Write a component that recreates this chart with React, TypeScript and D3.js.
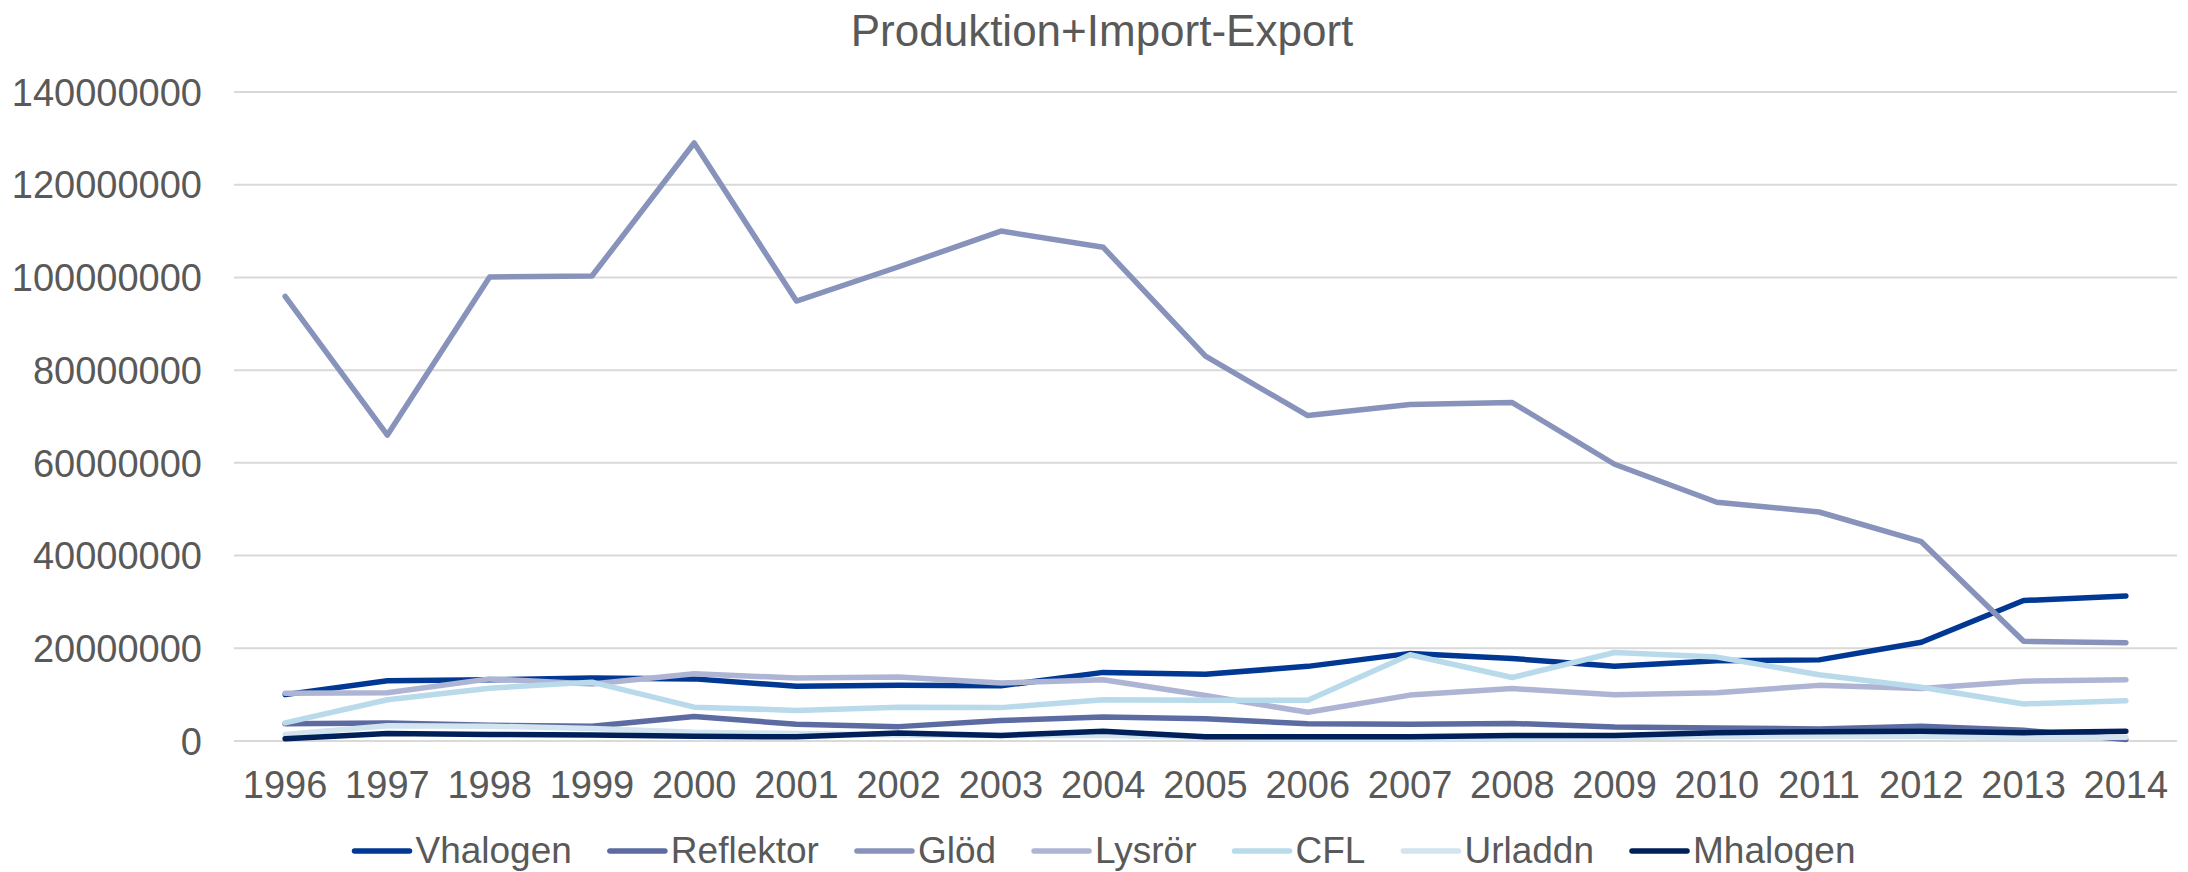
import { useRef, useLayoutEffect } from 'react';
import * as d3 from 'd3';

const years = ['1996', '1997', '1998', '1999', '2000', '2001', '2002', '2003', '2004', '2005',
  '2006', '2007', '2008', '2009', '2010', '2011', '2012', '2013', '2014'];

// values in millions
const vhalogen = [10.0, 13.0, 13.2, 13.6, 13.4, 11.8, 12.0, 11.9, 14.8, 14.4, 16.1, 18.9, 17.8, 16.1, 17.3, 17.5, 21.3, 30.3, 31.3];
const reflektor = [3.7, 3.9, 3.4, 3.2, 5.3, 3.6, 3.1, 4.4, 5.2, 4.8, 3.7, 3.6, 3.8, 3.0, 2.8, 2.6, 3.2, 2.3, 0.3];
const glod = [95.9, 66.0, 100.1, 100.3, 129.0, 94.9, 102.3, 110.0, 106.5, 83.0, 70.2, 72.6, 73.0, 59.7, 51.5, 49.4, 43.0, 21.5, 21.2];
const lysror = [10.3, 10.4, 13.4, 12.3, 14.5, 13.6, 13.8, 12.5, 13.2, 9.8, 6.2, 9.9, 11.3, 10.0, 10.4, 12.0, 11.3, 12.9, 13.2];
const cfl = [3.9, 8.9, 11.4, 12.7, 7.3, 6.6, 7.3, 7.2, 8.9, 8.8, 8.8, 18.6, 13.7, 19.1, 18.1, 14.3, 11.6, 8.0, 8.7];
const urladdn = [1.4, 3.3, 3.2, 2.7, 1.9, 1.6, 1.3, 1.2, 1.2, 0.8, 0.6, 0.5, 0.6, 0.7, 1.0, 1.1, 1.0, 0.7, 0.8];
const mhalogen = [0.5, 1.6, 1.4, 1.3, 1.0, 0.9, 1.7, 1.2, 2.1, 0.9, 0.9, 0.9, 1.2, 1.2, 1.8, 2.0, 2.1, 1.8, 2.1];

const seriesNames = ['Vhalogen', 'Reflektor', 'Glöd', 'Lysrör', 'CFL', 'Urladdn', 'Mhalogen'];
const seriesValues = [vhalogen, reflektor, glod, lysror, cfl, urladdn, mhalogen];
const seriesColors = ['#003894', '#5C6BA1', '#8893BC', '#AEB4D3', '#B8DAEA', '#D1E4EF', '#00205A'];
const yTicks = [0, 20000000, 40000000, 60000000, 80000000, 100000000, 120000000, 140000000];

const W = 2188;
const H = 872;
const FONT = 'Liberation Sans, Arial, sans-serif';
const TEXT = '#595959';

const Chart = () => {
  const ref = useRef<SVGGElement>(null);

  useLayoutEffect(() => {
    const g = d3.select(ref.current);

    const x = d3.scaleBand().domain(years).range([234, 2177]);
    const y = d3.scaleLinear().domain([0, 140000000]).range([741, 92]);

    // gridlines
    g.append('g')
      .selectAll('line')
      .data(yTicks)
      .join('line')
      .attr('x1', 234)
      .attr('x2', 2177)
      .attr('y1', (d) => y(d))
      .attr('y2', (d) => y(d))
      .attr('stroke', '#d9d9d9')
      .attr('stroke-width', 2);

    // y tick labels
    g.append('g')
      .selectAll('text')
      .data(yTicks)
      .join('text')
      .attr('x', 202)
      .attr('y', (d) => y(d))
      .attr('dy', '0.36em')
      .attr('text-anchor', 'end')
      .attr('font-size', 38)
      .attr('fill', TEXT)
      .text((d) => String(d));

    // x tick labels
    g.append('g')
      .selectAll('text')
      .data(years)
      .join('text')
      .attr('x', (d) => x(d)! + x.bandwidth() / 2)
      .attr('y', 798)
      .attr('text-anchor', 'middle')
      .attr('font-size', 38)
      .attr('fill', TEXT)
      .text((d) => d);

    const line = d3
      .line<number>()
      .x((_, i) => x(years[i])! + x.bandwidth() / 2)
      .y((d) => y(d * 1000000));

    g.append('g')
      .selectAll('path')
      .data(seriesValues)
      .join('path')
      .attr('d', (d) => line(d))
      .attr('fill', 'none')
      .attr('stroke', (_, i) => seriesColors[i])
      .attr('stroke-width', 5.5)
      .attr('stroke-linejoin', 'round')
      .attr('stroke-linecap', 'round');

    // title
    g.append('text')
      .attr('x', 1102)
      .attr('y', 46)
      .attr('text-anchor', 'middle')
      .attr('font-size', 44)
      .attr('fill', TEXT)
      .text('Produktion+Import-Export');

    // legend, measured then centred
    const legend = g.append('g');
    const lineLen = 55;
    const gap = 6;
    const spacing = 38;
    let cx = 0;
    seriesNames.forEach((name, i) => {
      const item = legend.append('g').attr('transform', `translate(${cx},0)`);
      item
        .append('line')
        .attr('x1', 0)
        .attr('x2', lineLen)
        .attr('y1', 851)
        .attr('y2', 851)
        .attr('stroke', seriesColors[i])
        .attr('stroke-width', 5.5)
        .attr('stroke-linecap', 'round');
      const t = item
        .append('text')
        .attr('x', lineLen + gap)
        .attr('y', 863)
        .attr('font-size', 37)
        .attr('fill', TEXT)
        .text(name);
      const w = (t.node() as SVGTextElement).getComputedTextLength();
      cx += lineLen + gap + w + spacing;
    });
    const total = cx - spacing;
    legend.attr('transform', `translate(${1105 - total / 2},0)`);

    return () => {
      if (ref.current) ref.current.innerHTML = '';
    };
  }, []);

  return (
    <svg width={W} height={H} viewBox={`0 0 ${W} ${H}`} style={{ position: 'absolute', left: 0, top: 0, background: '#fff' }}>
      <g ref={ref} fontFamily={FONT}></g>
    </svg>
  );
};

export default function App() {
  return <Chart />;
}
